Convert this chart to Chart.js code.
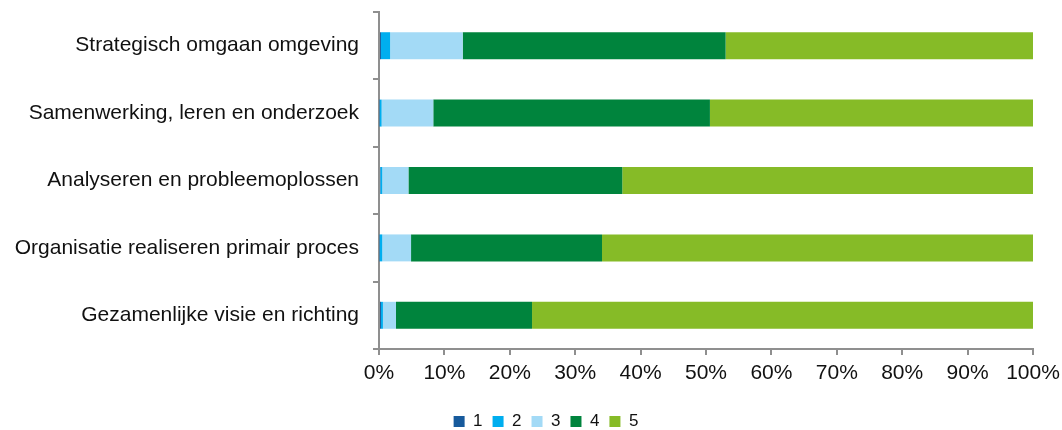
<!DOCTYPE html>
<html>
<head>
<meta charset="utf-8">
<script src="https://cdn.jsdelivr.net/npm/chart.js@4"></script>
<style>
  html, body { margin: 0; padding: 0; background: #fff; }
  #wrap { width: 1062px; height: 430px; position: relative; }
</style>
</head>
<body>
<div id="wrap"><canvas id="c" width="1062" height="430"></canvas></div>
<script>
// Competence areas (rows, top to bottom)
const categories = [
  'Strategisch omgaan omgeving',
  'Samenwerking, leren en onderzoek',
  'Analyseren en probleemoplossen',
  'Organisatie realiseren primair proces',
  'Gezamenlijke visie en richting'
];

// Share of answers per score (percent)
const score1 = [0.3, 0.1, 0.2, 0.1, 0.3];
const score2 = [1.4, 0.3, 0.3, 0.4, 0.3];
const score3 = [11.1, 7.9, 4.0, 4.4, 2.0];
const score4 = [40.2, 42.3, 32.7, 29.2, 20.8];
const score5 = [47.0, 49.4, 62.8, 65.9, 76.6];

const seriesLabels = ['1', '2', '3', '4', '5'];
const xTicks = [0, 10, 20, 30, 40, 50, 60, 70, 80, 90, 100];

const colors = ['#175a9c', '#00aeef', '#a3daf6', '#00843d', '#86bb27'];
const seriesData = [score1, score2, score3, score4, score5];

const axisColor = '#8f8f8f';
const font = "'Liberation Sans', Arial, sans-serif";

// Nudge the legend row so it sits under the plot rather than the whole canvas
const legendOffset = {
  id: 'legendOffset',
  afterLayout(chart) {
    const lg = chart.legend;
    if (!lg) return;
    lg.left += 15; lg.right += 15;
    lg.top += 10; lg.bottom += 10;
  }
};

new Chart(document.getElementById('c'), {
  type: 'bar',
  data: {
    labels: categories,
    datasets: seriesData.map((d, i) => ({
      label: seriesLabels[i],
      data: d,
      backgroundColor: colors[i],
      borderWidth: 0,
      barPercentage: 0.4,
      categoryPercentage: 1.0
    }))
  },
  plugins: [legendOffset],
  options: {
    indexAxis: 'y',
    responsive: false,
    animation: false,
    devicePixelRatio: 1,
    layout: { padding: 0 },
    plugins: {
      tooltip: { enabled: false },
      legend: {
        position: 'bottom',
        labels: {
          boxWidth: 11,
          boxHeight: 11,
          padding: 10,
          color: '#111',
          font: { family: font, size: 17 }
        }
      }
    },
    scales: {
      x: {
        stacked: true,
        min: 0,
        max: 100,
        afterBuildTicks: (s) => { s.ticks = xTicks.map(v => ({ value: v })); },
        ticks: {
          callback: (v) => v + '%',
          color: '#111',
          font: { family: font, size: 21 },
          padding: 6,
          maxRotation: 0
        },
        grid: { drawOnChartArea: false, tickLength: 6, color: axisColor, lineWidth: 2 },
        border: { color: axisColor, width: 2 },
        afterFit: (s) => { s.height = 44; s.paddingLeft = 0; s.paddingRight = 29; }
      },
      y: {
        stacked: true,
        ticks: {
          color: '#111',
          font: { family: font, size: 21 },
          padding: 14
        },
        grid: { drawOnChartArea: false, tickLength: 6, color: axisColor, lineWidth: 2, offset: true },
        border: { color: axisColor, width: 2 },
        afterFit: (s) => { s.width = 379; s.paddingTop = 12; s.paddingBottom = 0; }
      }
    }
  }
});
</script>
</body>
</html>
